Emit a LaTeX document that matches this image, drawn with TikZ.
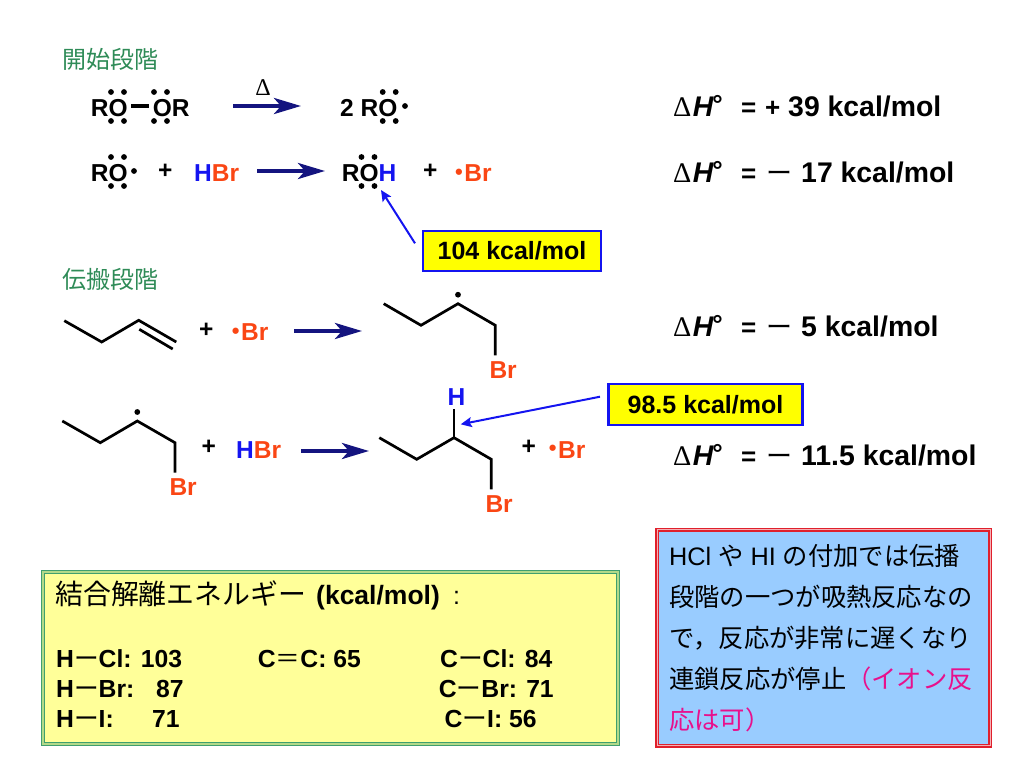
\documentclass[tikz,border=0pt]{standalone}
\usepackage{fontspec}
\setmainfont{Liberation Sans}
\newfontfamily\serifgr{Liberation Serif}
\newfontfamily\cjk{Noto Sans CJK JP}
\usetikzlibrary{arrows.meta}
\definecolor{rxnNavy}{HTML}{14147F}
\definecolor{hBlue}{HTML}{1414F0}
\definecolor{brOrange}{HTML}{FA4614}
\definecolor{headGreen}{HTML}{2E8B57}
\definecolor{calloutYellow}{HTML}{FFFF00}
\definecolor{tableYellow}{HTML}{FFFF99}
\definecolor{tableEdge}{HTML}{3F9F6F}
\definecolor{noteBlue}{HTML}{99CCFF}
\definecolor{noteEdge}{HTML}{E0202C}
\definecolor{notePink}{HTML}{E8108C}
\newcommand{\hAtom}{\textcolor{hBlue}{H}}
\newcommand{\brAtom}{\textcolor{brOrange}{Br}}
\newcommand{\brRad}{\textcolor{brOrange}{\raisebox{2.5pt}{\fontsize{22}{22}\selectfont\textbullet}\hspace{1.5pt}Br}}
\newcommand{\dashJ}{{\mdseries\cjk ー}}
\newcommand{\dHo}{{\mdseries\serifgr Δ}\hspace{1.5pt}{\bfseries\itshape H}\raisebox{3.5pt}{\hspace{-1pt}\fontsize{26}{26}\selectfont\bfseries °}}
\newcommand{\lonePairs}[2]{%
  \fill (#1-6.5,#2-14.5) circle (2.9);
  \fill (#1+6.5,#2-14.5) circle (2.9);
  \fill (#1-6.5,#2+14.5) circle (2.9);
  \fill (#1+6.5,#2+14.5) circle (2.9);
}
\begin{document}
\begin{tikzpicture}
        [x=1pt,y=-1pt,
        chem/.style={anchor=base west,inner sep=0pt,font=\fontsize{24.5}{28}\selectfont\bfseries},
        head/.style={anchor=base west,inner sep=0pt,text=headGreen,font=\fontsize{24}{28}\selectfont\cjk},
        energy/.style={anchor=base west,inner sep=0pt,font=\fontsize{28.4}{30}\selectfont\bfseries},
        energySign/.style={anchor=base west,inner sep=0pt,font=\fontsize{26}{28}\selectfont\bfseries},
        rowText/.style={anchor=base west,inner sep=0pt,font=\fontsize{24.7}{28}\selectfont\bfseries},
        callout/.style={rectangle,draw=hBlue,line width=2.2pt,fill=calloutYellow,inner sep=0pt,font=\fontsize{25}{28}\selectfont\bfseries},
        bond/.style={line width=2.7pt,line join=miter},
        rxnArrow/.style={rxnNavy,line width=4pt,-{Stealth[length=27pt,width=16pt,inset=7pt]}},
        calloutArrow/.style={hBlue,line width=2pt,-{Stealth[length=11pt,width=10pt,inset=2pt]}}]
        \useasboundingbox (0,0) rectangle (1024,768);

        \node[head] (headInit) at (62,68) {開始段階};
        \node[head] (headProp) at (62,288) {伝搬段階};

        % initiation
        \node[chem] (roorL) at (90.7,116) {RO};
        \node[chem] (roorR) at (152.7,116) {OR};
        \coordinate (peroxA) at (131,106);
        \coordinate (peroxB) at (149,106);
        \draw[line width=3.2pt] (peroxA) -- (peroxB);
        \lonePairs{117.5}{106.5}
        \lonePairs{160.5}{106.5}
        \node[font=\fontsize{24}{26}\selectfont\serifgr] (heat) at (263,88) {Δ};
        \coordinate (arrAs) at (233,106);
        \coordinate (arrAe) at (301,106);
        \draw[rxnArrow] (arrAs) -- (arrAe);
        \node[chem] (twoRO) at (340,116) {2 RO};
        \lonePairs{389.2}{106.5}
        \fill (405,106) circle (2.9);

        \node[chem] (ro) at (90.7,181.5) {RO};
        \lonePairs{117.5}{171.5}
        \fill (134,171) circle (2.9);
        \node[chem] (plusA) at (158,178) {+};
        \node[chem] (hbrA) at (194,181.5) {\hAtom\brAtom};
        \coordinate (arrBs) at (257,171);
        \coordinate (arrBe) at (325,171);
        \draw[rxnArrow] (arrBs) -- (arrBe);
        \node[chem] (roh) at (341.7,181.5) {RO\hAtom};
        \lonePairs{368}{171.5}
        \node[chem] (plusB) at (423,178) {+};
        \node[chem] (brA) at (455,181.5) {\brRad};

        \node[callout,minimum width=178pt,minimum height=40pt] (bdeOH) at (512,251) {104 kcal/mol};
        \coordinate (tipOH) at (381,190);
        \coordinate (tailOH) at (415,243.3);
        \draw[calloutArrow] (tailOH) -- (tipOH);

        % enthalpies
        \node[energy] (dhA) at (673,116.7) {\dHo};
        \node[energySign] (eqA) at (741,116.7) {=};
        \node[energySign] (signA) at (765,116.7) {+};
        \node[energy] (valA) at (788,116.7) {39 kcal/mol};
        \node[energy] (dhB) at (673,182.7) {\dHo};
        \node[energySign] (eqB) at (741,182.7) {=};
        \node[energySign] (signB) at (766,182.7) {\dashJ};
        \node[energy] (valB) at (801,182.7) {17 kcal/mol};
        \node[energy] (dhC) at (673,336.7) {\dHo};
        \node[energySign] (eqC) at (741,336.7) {=};
        \node[energySign] (signC) at (766,336.7) {\dashJ};
        \node[energy] (valC) at (801,336.7) {5 kcal/mol};
        \node[energy] (dhD) at (673,465.5) {\dHo};
        \node[energySign] (eqD) at (741,465.5) {=};
        \node[energySign] (signD) at (766,465.5) {\dashJ};
        \node[energy] (valD) at (801,465.5) {11.5 kcal/mol};

        % propagation 1
        \coordinate (enA) at (64.3,320.7);
        \coordinate (enB) at (101.7,342);
        \coordinate (enC) at (138.7,320.3);
        \coordinate (enD) at (176.3,342);
        \coordinate (enE) at (139.3,329.3);
        \coordinate (enF) at (172.7,349);
        \draw[bond] (enA) -- (enB) -- (enC) -- (enD);
        \draw[bond] (enE) -- (enF);
        \node[chem] (plusC) at (199,337) {+};
        \node[chem] (brB) at (231.7,340.7) {\brRad};
        \coordinate (arrCs) at (294,331);
        \coordinate (arrCe) at (362,331);
        \draw[rxnArrow] (arrCs) -- (arrCe);
        \coordinate (prA) at (383.7,303.7);
        \coordinate (prB) at (421,325.3);
        \coordinate (prC) at (458,303.7);
        \coordinate (prD) at (495.3,325.3);
        \coordinate (prE) at (495.3,355.3);
        \draw[bond] (prA) -- (prB) -- (prC) -- (prD) -- (prE);
        \fill (458,294.7) circle (2.9);
        \node[chem] (brC) at (489.3,378.7) {\brAtom};

        % propagation 2
        \coordinate (raA) at (62.3,421);
        \coordinate (raB) at (100.3,442.7);
        \coordinate (raC) at (137.3,421);
        \coordinate (raD) at (175,442.7);
        \coordinate (raE) at (175,472.7);
        \draw[bond] (raA) -- (raB) -- (raC) -- (raD) -- (raE);
        \fill (137.3,412) circle (2.9);
        \node[chem] (brD) at (169.3,495) {\brAtom};
        \node[chem] (plusD) at (201.5,454.5) {+};
        \node[chem] (hbrB) at (236,458) {\hAtom\brAtom};
        \coordinate (arrDs) at (301,451);
        \coordinate (arrDe) at (369,451);
        \draw[rxnArrow] (arrDs) -- (arrDe);
        \coordinate (alA) at (379.3,437.7);
        \coordinate (alB) at (416.7,459.3);
        \coordinate (alC) at (454,437.7);
        \coordinate (alD) at (491.3,459.3);
        \coordinate (alE) at (491.3,489.3);
        \coordinate (alH) at (454,409.3);
        \draw[bond] (alA) -- (alB) -- (alC) -- (alD) -- (alE);
        \draw[bond] (alC) -- (alH);
        \node[chem] (hAl) at (447.5,405) {\hAtom};
        \node[chem] (brE) at (485.3,512) {\brAtom};
        \node[chem] (plusE) at (521.5,454.5) {+};
        \node[chem] (brF) at (548.7,458.3) {\brRad};

        \node[callout,minimum width=194pt,minimum height=41pt] (bdeCH) at (705.5,404.2) {98.5 kcal/mol};
        \coordinate (tipCH) at (460.7,424.3);
        \coordinate (tailCH) at (600,396.7);
        \draw[calloutArrow] (tailCH) -- (tipCH);

        % bond energy table
        \node[rectangle,draw=tableEdge,fill=tableYellow,line width=1.4pt,double=tableYellow!60!tableEdge,double distance=1.2pt,minimum width=575pt,minimum height=172pt] (tableBox) at (330.5,658) {};
        \node[anchor=base west,inner sep=0pt,font=\fontsize{27.9}{30}\selectfont\cjk] (tableHead) at (55,604) {結合解離エネルギー};
        \node[rowText,font=\fontsize{26.5}{30}\selectfont\bfseries] (tableUnit) at (316,604) {(kcal/mol)};
        \node[rowText,font=\fontsize{25}{28}\selectfont] (tableColon) at (453,604) {:};
        \node[rowText] (hcl) at (56,667) {H\dashJ Cl: 103};
        \node[rowText] (hbr) at (56,697) {H\dashJ Br:};
        \node[rowText] (hbrVal) at (156,697) {87};
        \node[rowText] (hi) at (56,727) {H\dashJ I:};
        \node[rowText] (hiVal) at (152,727) {71};
        \node[rowText] (cc) at (257.7,667) {C{\mdseries\cjk ＝}C: 65};
        \node[rowText] (ccl) at (440,667) {C\dashJ Cl: 84};
        \node[rowText] (cbr) at (438.7,697) {C\dashJ Br: 71};
        \node[rowText] (ci) at (444.5,727) {C\dashJ I: 56};

        % note
        \node[rectangle,draw=noteEdge,fill=noteBlue,line width=1.4pt,double=noteEdge!35!white,double distance=1.2pt,anchor=north west,inner xsep=12pt,inner ysep=9pt,minimum width=333pt,minimum height=216pt,text width=309pt,align=left,font=\fontsize{25.3}{41}\selectfont] (noteBox) at (656.5,529) {HCl\hspace{7pt}{\cjk や}\hspace{7pt}HI\hspace{7pt}{\cjk の付加では伝播}\\
        {\cjk 段階の一つが吸熱反応なの}\\
        {\cjk で，反応が非常に遅くなり}\\
        {\cjk 連鎖反応が停止\textcolor{notePink}{（イオン反}}\\
        \textcolor{notePink}{\cjk 応は可）}};
\end{tikzpicture}
\end{document}
